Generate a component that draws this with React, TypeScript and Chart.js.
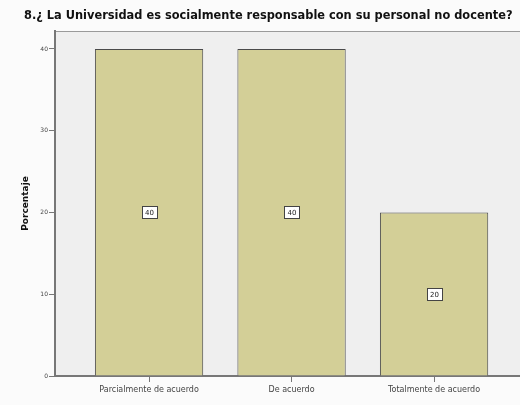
import React, { useEffect, useRef } from "react";
import { Chart, registerables } from "chart.js";

Chart.register(...registerables);

const titleText = "8.¿ La Universidad es socialmente responsable con su personal no docente?";
const categories = ["Parcialmente de acuerdo", "De acuerdo", "Totalmente de acuerdo"];
const values = [40, 40, 20];
const yTicks = [0, 10, 20, 30, 40];
const yAxisTitle = "Porcentaje";

const FONT = "'DejaVu Sans', Verdana, sans-serif";

const decorPlugin = {
  id: "decor",
  beforeDraw(chart: any) {
    const { ctx, chartArea: a } = chart;
    ctx.save();
    ctx.fillStyle = "#fbfbfb";
    ctx.fillRect(0, 0, chart.width, chart.height);
    ctx.fillStyle = "#efefef";
    ctx.fillRect(a.left, a.top, a.right - a.left, a.bottom - a.top);
    ctx.strokeStyle = "#9a9a9a";
    ctx.lineWidth = 1;
    ctx.beginPath();
    ctx.moveTo(a.left, a.top + 0.5);
    ctx.lineTo(a.right, a.top + 0.5);
    ctx.stroke();
    // title
    ctx.fillStyle = "#111";
    ctx.font = "bold 11.4px " + FONT;
    ctx.textAlign = "left";
    ctx.textBaseline = "middle";
    ctx.fillText(titleText, 24, 16);
    ctx.restore();
  },
  afterDatasetsDraw(chart: any) {
    const { ctx } = chart;
    const meta = chart.getDatasetMeta(0);
    const yScale = chart.scales.y;
    ctx.save();
    ctx.font = "7px " + FONT;
    ctx.textAlign = "center";
    ctx.textBaseline = "middle";
    meta.data.forEach((el: any, i: number) => {
      const v = values[i];
      const x = el.x;
      const y = yScale.getPixelForValue(v / 2);
      const w = 15, h = 12;
      const bx = Math.round(x - w / 2) + 0.5;
      const by = Math.round(y - h / 2) + 0.5;
      ctx.fillStyle = "#ffffff";
      ctx.fillRect(bx, by, w, h);
      ctx.strokeStyle = "#444";
      ctx.lineWidth = 1;
      ctx.strokeRect(bx, by, w, h);
      ctx.fillStyle = "#222";
      ctx.fillText(String(v), x + 0.5, y + 1);
    });
    ctx.restore();
  },
};

export default function App() {
  const ref = useRef<HTMLCanvasElement>(null);
  useEffect(() => {
    document.body.style.margin = "0";
    const canvas = ref.current!;
    const chart = new Chart(canvas, {
      type: "bar",
      data: {
        datasets: [
          {
            data: values.map((v, i) => ({ x: i, y: v })),
            backgroundColor: "#d3cf97",
            borderColor: "#4a4a4a",
            borderWidth: 1,
            barPercentage: 0.76,
            categoryPercentage: 1,
          },
        ],
      },
      options: {
        responsive: false,
        animation: false,
        layout: { padding: { top: 31, left: 0, right: 0, bottom: 0 } },
        plugins: {
          legend: { display: false },
          title: { display: false },
          tooltip: { enabled: false },
        },
        scales: {
          x: {
            type: "linear",
            offset: false,
            min: -0.66,
            max: 2.603,
            afterBuildTicks: (s: any) => {
              s.ticks = categories.map((_, i) => ({ value: i }));
            },
            afterFit: (s: any) => {
              s.height = 29;
            },
            ticks: {
              callback: (v: any) => categories[v as number],
              font: { size: 8, family: FONT },
              color: "#444",
              padding: 3,
              maxRotation: 0,
              autoSkip: false,
            },
            grid: {
              offset: false,
              drawOnChartArea: false,
              tickLength: 6,
              color: "#777",
            },
            border: { display: true, color: "#777", width: 2 },
          },
          y: {
            min: 0,
            max: 42.2,
            afterBuildTicks: (s: any) => {
              s.ticks = yTicks.map((v) => ({ value: v }));
            },
            afterFit: (s: any) => {
              s.width = 55;
            },
            ticks: {
              font: { size: 6, family: FONT },
              color: "#444",
              padding: 1,
            },
            grid: {
              drawOnChartArea: false,
              tickLength: 6,
              color: "#777",
            },
            border: { display: true, color: "#777", width: 2 },
            title: {
              display: true,
              text: yAxisTitle,
              font: { size: 9, weight: "bold", family: FONT },
              color: "#111",
              padding: { top: 20, bottom: 0 },
            },
          },
        },
      },
      plugins: [decorPlugin],
    } as any);
    return () => chart.destroy();
  }, []);
  return <canvas ref={ref} width={520} height={405} style={{ display: "block" }} />;
}
